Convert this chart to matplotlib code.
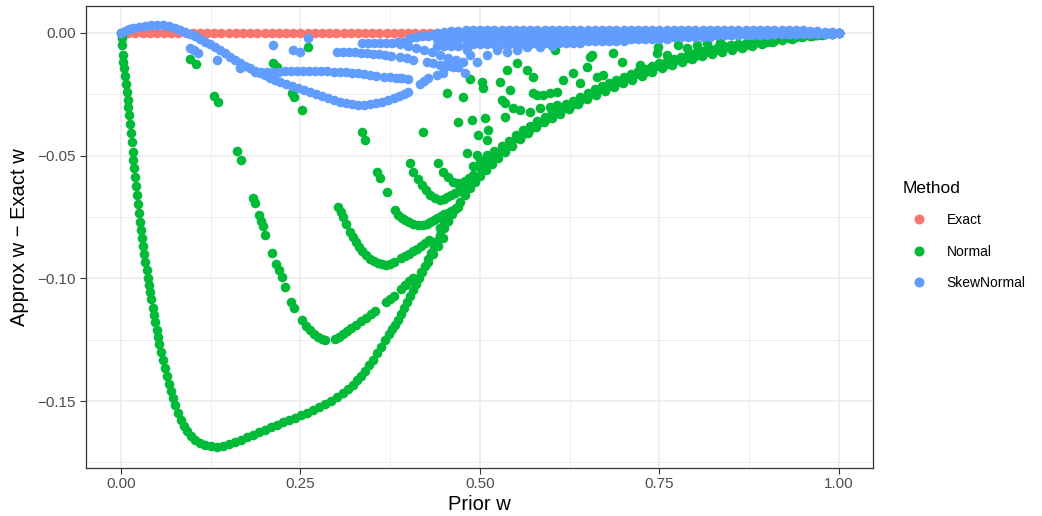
# scatter of approximation error vs prior weight, three methods
import numpy as np
import matplotlib
matplotlib.use('Agg')
import matplotlib.pyplot as plt
from matplotlib.lines import Line2D

# grid of prior w used for the exact series and the dense bands
prior_w = [0.00, 0.01, 0.02, 0.03, 0.04, 0.05, 0.06, 0.07, 0.08, 0.09,
           0.10, 0.11, 0.12, 0.13, 0.14, 0.15, 0.16, 0.17, 0.18, 0.19,
           0.20, 0.21, 0.22, 0.23, 0.24, 0.25, 0.26, 0.27, 0.28, 0.29,
           0.30, 0.31, 0.32, 0.33, 0.34, 0.35, 0.36, 0.37, 0.38, 0.39,
           0.40, 0.41, 0.42, 0.43, 0.44, 0.45, 0.46, 0.47, 0.48, 0.49,
           0.50, 0.51, 0.52, 0.53, 0.54, 0.55, 0.56, 0.57, 0.58, 0.59,
           0.60, 0.61, 0.62, 0.63, 0.64, 0.65, 0.66, 0.67, 0.68, 0.69,
           0.70, 0.71, 0.72, 0.73, 0.74, 0.75, 0.76, 0.77, 0.78, 0.79,
           0.80, 0.81, 0.82, 0.83, 0.84, 0.85, 0.86, 0.87, 0.88, 0.89,
           0.90, 0.91, 0.92, 0.93, 0.94, 0.95, 0.96, 0.97, 0.98, 0.99,
           1.00]

# Exact method: no error
exact_diff = [0.0] * len(prior_w)

# Normal method, lowest curve
normal_main_w = [0.000, 0.001, 0.001, 0.003, 0.003, 0.004, 0.006, 0.007, 0.008, 0.010,
                 0.010, 0.011, 0.013, 0.014, 0.015, 0.017, 0.017, 0.018, 0.019, 0.021,
                 0.022, 0.024, 0.025, 0.026, 0.028, 0.029, 0.031, 0.032, 0.033, 0.036,
                 0.038, 0.039, 0.040, 0.042, 0.045, 0.046, 0.047, 0.050, 0.052, 0.053,
                 0.056, 0.058, 0.061, 0.064, 0.067, 0.070, 0.072, 0.075, 0.079, 0.084,
                 0.088, 0.092, 0.097, 0.103, 0.110, 0.117, 0.125, 0.134, 0.142, 0.150,
                 0.159, 0.167, 0.175, 0.184, 0.192, 0.201, 0.209, 0.217, 0.226, 0.234,
                 0.242, 0.251, 0.259, 0.267, 0.276, 0.284, 0.292, 0.301, 0.309, 0.316,
                 0.323, 0.329, 0.334, 0.340, 0.345, 0.351, 0.357, 0.362, 0.368, 0.373,
                 0.377, 0.382, 0.386, 0.390, 0.394, 0.398, 0.403, 0.407, 0.411, 0.415,
                 0.419, 0.423, 0.428, 0.432, 0.436, 0.440, 0.444, 0.450, 0.455, 0.461,
                 0.467, 0.472, 0.479, 0.486, 0.493, 0.500, 0.508, 0.517, 0.525, 0.535,
                 0.545, 0.556, 0.567, 0.578, 0.589, 0.600, 0.611, 0.624, 0.637, 0.649,
                 0.662, 0.674, 0.687, 0.699, 0.712, 0.726, 0.740, 0.753, 0.767, 0.781,
                 0.795, 0.809, 0.823, 0.837, 0.851, 0.865, 0.879, 0.893, 0.907, 0.921,
                 0.935, 0.948, 0.962, 0.976, 0.990, 1.000]
normal_main_d = [0.0000, -0.0020, -0.0049, -0.0090, -0.0118, -0.0143, -0.0175, -0.0208, -0.0241, -0.0273,
                 -0.0302, -0.0334, -0.0371, -0.0408, -0.0444, -0.0485, -0.0518, -0.0550, -0.0587, -0.0624,
                 -0.0660, -0.0697, -0.0734, -0.0770, -0.0803, -0.0836, -0.0868, -0.0901, -0.0934, -0.0966,
                 -0.0999, -0.1027, -0.1056, -0.1084, -0.1121, -0.1150, -0.1178, -0.1211, -0.1239, -0.1268,
                 -0.1300, -0.1333, -0.1366, -0.1398, -0.1431, -0.1459, -0.1488, -0.1517, -0.1549, -0.1578,
                 -0.1602, -0.1623, -0.1643, -0.1659, -0.1671, -0.1680, -0.1684, -0.1688, -0.1684, -0.1676,
                 -0.1667, -0.1659, -0.1647, -0.1639, -0.1627, -0.1618, -0.1606, -0.1598, -0.1586, -0.1578,
                 -0.1569, -0.1557, -0.1549, -0.1537, -0.1525, -0.1512, -0.1500, -0.1484, -0.1468, -0.1451,
                 -0.1435, -0.1415, -0.1398, -0.1378, -0.1353, -0.1333, -0.1305, -0.1280, -0.1252, -0.1227,
                 -0.1207, -0.1190, -0.1170, -0.1146, -0.1121, -0.1097, -0.1072, -0.1048, -0.1023, -0.0999,
                 -0.0974, -0.0950, -0.0921, -0.0897, -0.0872, -0.0848, -0.0823, -0.0795, -0.0766, -0.0738,
                 -0.0713, -0.0689, -0.0660, -0.0632, -0.0607, -0.0583, -0.0558, -0.0534, -0.0510, -0.0485,
                 -0.0461, -0.0432, -0.0408, -0.0383, -0.0363, -0.0347, -0.0330, -0.0310, -0.0289, -0.0269,
                 -0.0253, -0.0236, -0.0220, -0.0204, -0.0192, -0.0175, -0.0159, -0.0143, -0.0130, -0.0118,
                 -0.0106, -0.0094, -0.0086, -0.0077, -0.0069, -0.0061, -0.0053, -0.0045, -0.0037, -0.0029,
                 -0.0024, -0.0016, -0.0012, -0.0008, -0.0004, 0.0000]

# Normal method, second curve (min near 0.28)
normal_b_w = [0.096, 0.104, 0.130, 0.135, 0.162, 0.167, 0.184, 0.187, 0.192, 0.195,
              0.198, 0.201, 0.210, 0.216, 0.220, 0.224, 0.228, 0.237, 0.241, 0.252,
              0.258, 0.263, 0.269, 0.274, 0.280, 0.284, 0.298, 0.304, 0.309, 0.315,
              0.320, 0.327, 0.334, 0.341, 0.348, 0.354, 0.369, 0.375, 0.380, 0.390,
              0.396, 0.401, 0.407, 0.418, 0.428, 0.435, 0.442, 0.448]
normal_b_d = [-0.0106, -0.0126, -0.0257, -0.0281, -0.0481, -0.0518, -0.0673, -0.0693, -0.0742, -0.0766,
              -0.0787, -0.0823, -0.0897, -0.0942, -0.0966, -0.0995, -0.1035, -0.1097, -0.1121, -0.1170,
              -0.1194, -0.1211, -0.1227, -0.1239, -0.1247, -0.1252, -0.1247, -0.1239, -0.1227, -0.1215,
              -0.1203, -0.1190, -0.1174, -0.1162, -0.1146, -0.1133, -0.1097, -0.1084, -0.1072, -0.1044,
              -0.1027, -0.1011, -0.0999, -0.0974, -0.0934, -0.0901, -0.0868, -0.0836]

# third curve (min near 0.37)
normal_c_w = [0.212, 0.217, 0.238, 0.241, 0.252, 0.302, 0.306, 0.309, 0.313, 0.319,
              0.323, 0.327, 0.331, 0.336, 0.341, 0.347, 0.352, 0.358, 0.364, 0.369,
              0.375, 0.380, 0.390, 0.396, 0.401, 0.407, 0.412, 0.418, 0.423, 0.429,
              0.444, 0.450, 0.455]
normal_c_d = [-0.0122, -0.0139, -0.0245, -0.0261, -0.0314, -0.0709, -0.0730, -0.0750, -0.0779, -0.0811,
              -0.0832, -0.0852, -0.0872, -0.0889, -0.0905, -0.0922, -0.0929, -0.0938, -0.0942, -0.0946,
              -0.0942, -0.0934, -0.0917, -0.0909, -0.0901, -0.0889, -0.0881, -0.0868, -0.0856, -0.0844,
              -0.0795, -0.0779, -0.0766]

# fourth curve (min near 0.42)
normal_d_w = [0.260, 0.336, 0.340, 0.357, 0.361, 0.370, 0.382, 0.386, 0.391, 0.396,
              0.401, 0.407, 0.414, 0.421, 0.426, 0.430, 0.436, 0.440, 0.446, 0.450,
              0.455, 0.460, 0.465, 0.469]
normal_d_d = [-0.0057, -0.0404, -0.0436, -0.0567, -0.0591, -0.0648, -0.0722, -0.0742, -0.0754, -0.0762,
              -0.0770, -0.0779, -0.0783, -0.0783, -0.0779, -0.0770, -0.0762, -0.0754, -0.0746, -0.0738,
              -0.0734, -0.0726, -0.0717, -0.0709]

# fifth and sixth curves
normal_e_w = [0.403, 0.407, 0.414, 0.419, 0.425, 0.430, 0.437, 0.444, 0.450, 0.454,
              0.460, 0.465, 0.471, 0.476, 0.482]
normal_e_d = [-0.0530, -0.0567, -0.0595, -0.0620, -0.0640, -0.0660, -0.0673, -0.0681, -0.0677, -0.0669,
              -0.0660, -0.0652, -0.0644, -0.0636, -0.0624]
normal_f_w = [0.421, 0.442, 0.448, 0.455, 0.462, 0.468, 0.474, 0.479, 0.485, 0.490]
normal_f_d = [-0.0404, -0.0530, -0.0567, -0.0587, -0.0607, -0.0611, -0.0611, -0.0603, -0.0591, -0.0579]

# loose Normal points above the band
normal_loose_w = [0.454, 0.476, 0.486, 0.503, 0.504, 0.469, 0.489, 0.507, 0.497, 0.510,
                  0.511, 0.482, 0.496, 0.528, 0.531, 0.535, 0.542, 0.535, 0.546, 0.556,
                  0.570, 0.574, 0.579, 0.588, 0.598, 0.607, 0.616, 0.630, 0.639, 0.653,
                  0.649, 0.663, 0.565, 0.574, 0.552, 0.538, 0.604, 0.656, 0.685, 0.671,
                  0.698, 0.723, 0.748, 0.747, 0.760, 0.776, 0.788, 0.802, 0.816, 0.834,
                  0.584, 0.598, 0.607]
normal_loose_d = [-0.0245, -0.0261, -0.0188, -0.0200, -0.0224, -0.0363, -0.0355, -0.0347, -0.0416, -0.0436,
                  -0.0395, -0.0489, -0.0497, -0.0200, -0.0273, -0.0285, -0.0232, -0.0342, -0.0306, -0.0314,
                  -0.0322, -0.0245, -0.0253, -0.0253, -0.0245, -0.0241, -0.0192, -0.0163, -0.0204, -0.0098,
                  -0.0139, -0.0179, -0.0151, -0.0179, -0.0122, -0.0151, -0.0069, -0.0090, -0.0082, -0.0171,
                  -0.0118, -0.0130, -0.0057, -0.0082, -0.0090, -0.0049, -0.0061, -0.0049, -0.0041, -0.0037,
                  -0.0306, -0.0302, -0.0294]

# Normal band over prior_w 0.49 .. 1.00
normal_band_hi = [-0.0542, -0.0518, -0.0497, -0.0481, -0.0461, -0.0440, -0.0416, -0.0395, -0.0379, -0.0359,
                  -0.0342, -0.0322, -0.0306, -0.0289, -0.0277, -0.0261, -0.0245, -0.0228, -0.0216, -0.0204,
                  -0.0192, -0.0179, -0.0167, -0.0155, -0.0147, -0.0135, -0.0122, -0.0114, -0.0106, -0.0098,
                  -0.0090, -0.0082, -0.0073, -0.0065, -0.0061, -0.0053, -0.0049, -0.0045, -0.0041, -0.0037,
                  -0.0033, -0.0029, -0.0024, -0.0020, -0.0016, -0.0012, -0.0012, -0.0008, -0.0008, -0.0004,
                  -0.0004, 0.0]
normal_band_mid = [-0.0583, -0.0550, -0.0526, -0.0503, -0.0479, -0.0455, -0.0430, -0.0410, -0.0391, -0.0371,
                   -0.0353, -0.0334, -0.0318, -0.0304, -0.0289, -0.0273, -0.0257, -0.0241, -0.0228, -0.0216,
                   -0.0204, -0.0192, -0.0179, -0.0167, -0.0159, -0.0147, -0.0135, -0.0126, -0.0116, -0.0108,
                   -0.0100, -0.0092, -0.0084, -0.0077, -0.0069, -0.0063, -0.0057, -0.0053, -0.0049, -0.0045,
                   -0.0041, -0.0035, -0.0031, -0.0024, -0.0020, -0.0018, -0.0014, -0.0012, -0.0008, -0.0006,
                   -0.0004, 0.0]

# SkewNormal main curve
skew_main_w = [0.000, 0.006, 0.011, 0.017, 0.025, 0.033, 0.042, 0.050, 0.058, 0.067,
               0.075, 0.082, 0.089, 0.096, 0.103, 0.110, 0.117, 0.124, 0.131, 0.138,
               0.145, 0.152, 0.159, 0.166, 0.173, 0.180, 0.187, 0.194, 0.201, 0.208,
               0.214, 0.221, 0.230, 0.238, 0.247, 0.255, 0.263, 0.272, 0.280, 0.288,
               0.297, 0.305, 0.313, 0.322, 0.330, 0.338, 0.347, 0.355, 0.364, 0.372,
               0.380, 0.387, 0.394, 0.400]
skew_main_d = [0.0000, 0.0008, 0.0016, 0.0020, 0.0024, 0.0029, 0.0033, 0.0033, 0.0033, 0.0029,
               0.0020, 0.0012, 0.0004, -0.0004, -0.0012, -0.0024, -0.0037, -0.0045, -0.0057, -0.0069,
               -0.0082, -0.0098, -0.0110, -0.0122, -0.0135, -0.0143, -0.0155, -0.0163, -0.0171, -0.0183,
               -0.0192, -0.0200, -0.0208, -0.0216, -0.0224, -0.0232, -0.0241, -0.0249, -0.0257, -0.0265,
               -0.0273, -0.0281, -0.0285, -0.0289, -0.0294, -0.0294, -0.0289, -0.0285, -0.0281, -0.0273,
               -0.0265, -0.0257, -0.0249, -0.0241]

# SkewNormal rows
skew_b_w = [0.096, 0.102, 0.107, 0.134, 0.166, 0.187, 0.195, 0.203, 0.212, 0.220,
            0.228, 0.237, 0.245, 0.253, 0.262, 0.270, 0.279, 0.287, 0.297, 0.305,
            0.313, 0.322, 0.330, 0.338, 0.347, 0.355, 0.366, 0.375, 0.383, 0.391,
            0.400, 0.416, 0.422, 0.428]
skew_b_d = [-0.0061, -0.0069, -0.0082, -0.0110, -0.0143, -0.0159, -0.0159, -0.0159, -0.0159, -0.0159,
            -0.0155, -0.0155, -0.0155, -0.0155, -0.0155, -0.0155, -0.0155, -0.0155, -0.0159, -0.0159,
            -0.0159, -0.0163, -0.0163, -0.0167, -0.0171, -0.0175, -0.0179, -0.0179, -0.0183, -0.0183,
            -0.0188, -0.0208, -0.0196, -0.0183]
skew_c_w = [0.212, 0.240, 0.249, 0.301, 0.309, 0.318, 0.326, 0.334, 0.343, 0.351,
            0.359, 0.368, 0.376, 0.389, 0.398, 0.407, 0.426, 0.435, 0.444, 0.454,
            0.462, 0.469]
skew_c_d = [-0.0049, -0.0069, -0.0077, -0.0077, -0.0077, -0.0077, -0.0077, -0.0082, -0.0082, -0.0086,
            -0.0086, -0.0090, -0.0094, -0.0098, -0.0102, -0.0110, -0.0118, -0.0122, -0.0130, -0.0135,
            -0.0139, -0.0139]
skew_d_w = [0.336, 0.344, 0.352, 0.361, 0.369, 0.377, 0.386, 0.394, 0.403, 0.411,
            0.419, 0.428, 0.436, 0.444, 0.453, 0.461, 0.469, 0.478, 0.486, 0.494]
skew_d_d = [-0.0041, -0.0041, -0.0041, -0.0041, -0.0041, -0.0041, -0.0037, -0.0037, -0.0020, -0.0016,
            -0.0012, -0.0012, -0.0008, -0.0008, -0.0008, -0.0004, -0.0004, -0.0004, 0.0, 0.0]
skew_e_w = [0.389, 0.400, 0.411, 0.422, 0.433, 0.444, 0.455, 0.467, 0.476]
skew_e_d = [-0.0045, -0.0053, -0.0061, -0.0069, -0.0077, -0.0090, -0.0102, -0.0110, -0.0118]
skew_loose_w = [0.260, 0.389, 0.440, 0.448, 0.454, 0.469, 0.479, 0.482, 0.486, 0.496,
                0.510, 0.524, 0.538, 0.552, 0.565, 0.584, 0.600]
skew_loose_d = [-0.0020, -0.0183, -0.0171, -0.0163, -0.0122, -0.0139, -0.0163, -0.0069, -0.0090, -0.0118,
                -0.0090, -0.0069, -0.0077, -0.0069, -0.0057, -0.0057, -0.0053]

# SkewNormal band over prior_w 0.44 .. 1.00
skew_band_a = [0.0, 0.0004, 0.0008, 0.0008,
               0.0012, 0.0012, 0.0012, 0.0012, 0.0012, 0.0012, 0.0012, 0.0012, 0.0012, 0.0012, 0.0012, 0.0012,
               0.0012, 0.0012, 0.0012, 0.0012, 0.0012, 0.0012, 0.0012, 0.0012, 0.0012, 0.0012, 0.0012, 0.0012,
               0.0012, 0.0012, 0.0012, 0.0012, 0.0012, 0.0012, 0.0012, 0.0012, 0.0012, 0.0012, 0.0012, 0.0012,
               0.0012, 0.0012, 0.0012, 0.0012, 0.0012, 0.0012, 0.0012, 0.0012, 0.0012, 0.0012, 0.0012, 0.0012,
               0.0008, 0.0008, 0.0004, 0.0002, 0.0]
skew_band_b = [-0.0008, -0.0008, -0.0008, -0.0008, -0.0008,
               -0.0004, -0.0004, -0.0004, -0.0004, -0.0004, -0.0004, -0.0004, -0.0004, -0.0004, -0.0004,
               -0.0004, -0.0004, -0.0004, -0.0004, -0.0004, -0.0004, -0.0004, -0.0004, -0.0004, -0.0004,
               -0.0004, -0.0004, -0.0004, -0.0004, -0.0004, -0.0004, -0.0004, -0.0004, -0.0004, -0.0004,
               -0.0004, -0.0004, -0.0004, -0.0004, -0.0004, -0.0004, -0.0004, -0.0004, -0.0004, -0.0004,
               -0.0004, -0.0004,
               0.0, 0.0, 0.0, 0.0, 0.0, 0.0, 0.0, 0.0, 0.0, 0.0]
skew_band_c = [-0.0024, -0.0024, -0.0024, -0.0024, -0.0024,
               -0.0020, -0.0020, -0.0020, -0.0020, -0.0020, -0.0020, -0.0020, -0.0020, -0.0020, -0.0020,
               -0.0020, -0.0020, -0.0020, -0.0020,
               -0.0016, -0.0016, -0.0016, -0.0016, -0.0016, -0.0016, -0.0016, -0.0016,
               -0.0012, -0.0012, -0.0012, -0.0012, -0.0012, -0.0012, -0.0012, -0.0012,
               -0.0008, -0.0008, -0.0008, -0.0008, -0.0008, -0.0008, -0.0008, -0.0008,
               -0.0004, -0.0004, -0.0004, -0.0004, -0.0004, -0.0004, -0.0004, -0.0004,
               0.0, 0.0, 0.0, 0.0, 0.0, 0.0]
skew_band_d = [-0.0053, -0.0053, -0.0053, -0.0053, -0.0053,
               -0.0045, -0.0045, -0.0045, -0.0045, -0.0045, -0.0045, -0.0045, -0.0045, -0.0045, -0.0045,
               -0.0041, -0.0041, -0.0041, -0.0041, -0.0041, -0.0041,
               -0.0033, -0.0033, -0.0033, -0.0033, -0.0033, -0.0033,
               -0.0024, -0.0024, -0.0024, -0.0024, -0.0024, -0.0024,
               -0.0016, -0.0016, -0.0016, -0.0016, -0.0016, -0.0016,
               -0.0008, -0.0008, -0.0008, -0.0008, -0.0008, -0.0008, -0.0008, -0.0008,
               -0.0004, -0.0004, -0.0004, -0.0004, -0.0004, -0.0004, -0.0004, -0.0004, -0.0004,
               0.0]

methods = ['Exact', 'Normal', 'SkewNormal']
colores = ['#F8766D', '#00BA38', '#619CFF']

# juntar las piezas de cada metodo
band_norm = prior_w[49:]
band_skew = prior_w[44:]
normal_w = np.concatenate([normal_main_w, normal_b_w, normal_c_w, normal_d_w, normal_e_w,
                           normal_f_w, normal_loose_w, band_norm, band_norm])
normal_d = np.concatenate([normal_main_d, normal_b_d, normal_c_d, normal_d_d, normal_e_d,
                           normal_f_d, normal_loose_d, normal_band_hi, normal_band_mid])
skew_w = np.concatenate([skew_main_w, skew_b_w, skew_c_w, skew_d_w, skew_e_w, skew_loose_w,
                         band_skew, band_skew, band_skew, band_skew])
skew_d = np.concatenate([skew_main_d, skew_b_d, skew_c_d, skew_d_d, skew_e_d, skew_loose_d,
                         skew_band_a, skew_band_b, skew_band_c, skew_band_d])

plt.rcParams['font.family'] = ['Liberation Sans', 'DejaVu Sans']

fig = plt.figure(figsize=(10.42, 5.16), dpi=100)
ax = fig.add_axes([86 / 1042, 48 / 516, 787 / 1042, 462 / 516])

pt = 48
ax.scatter(prior_w, exact_diff, s=pt, color=colores[0], linewidths=0, zorder=3)
ax.scatter(normal_w, normal_d, s=pt, color=colores[1], linewidths=0, zorder=3)
ax.scatter(skew_w, skew_d, s=pt, color=colores[2], linewidths=0, zorder=3)

ax.set_xlim(-0.0487, 1.0474)
ax.set_ylim(-0.1773, 0.0110)

ax.set_xticks([0, 0.25, 0.5, 0.75, 1.0])
ax.set_xticklabels(['0.00', '0.25', '0.50', '0.75', '1.00'])
ax.set_xticks([0.125, 0.375, 0.625, 0.875], minor=True)
ax.set_yticks([-0.15, -0.10, -0.05, 0.0])
ax.set_yticklabels(['\u22120.15', '\u22120.10', '\u22120.05', '0.00'])
ax.set_yticks([-0.175, -0.125, -0.075, -0.025], minor=True)

ax.grid(which='major', color='#EBEBEB', linewidth=1.1)
ax.grid(which='minor', color='#EBEBEB', linewidth=0.55)
ax.set_axisbelow(True)
ax.tick_params(which='minor', length=0)
ax.tick_params(which='major', length=4, width=0.8, color='#333333',
               labelcolor='#4D4D4D', labelsize=11)
ax.tick_params(axis='x', pad=2.5)
ax.tick_params(axis='y', pad=3.5)
for s in ax.spines.values():
    s.set_color('#333333')
    s.set_linewidth(0.9)

ax.set_xlabel('Prior w', fontsize=14.5, color='black')
ax.set_ylabel('Approx w \u2212 Exact w', fontsize=14.5, color='black')
ax.xaxis.set_label_coords(0.5, -0.058)
ax.yaxis.set_label_coords(-0.072, 0.5)

handles = [Line2D([], [], marker='o', ls='', color=c, markersize=6.2) for c in colores]
leg = fig.legend(handles, methods, title='Method', loc='upper left',
                 bbox_to_anchor=(903 / 1042, 1 - 181 / 516), frameon=False,
                 fontsize=10, title_fontsize=12.5, alignment='left',
                 handlelength=2.3, handletextpad=0.85, labelspacing=1.25,
                 borderpad=0, borderaxespad=0)

fig.savefig('out.png', dpi=100)
